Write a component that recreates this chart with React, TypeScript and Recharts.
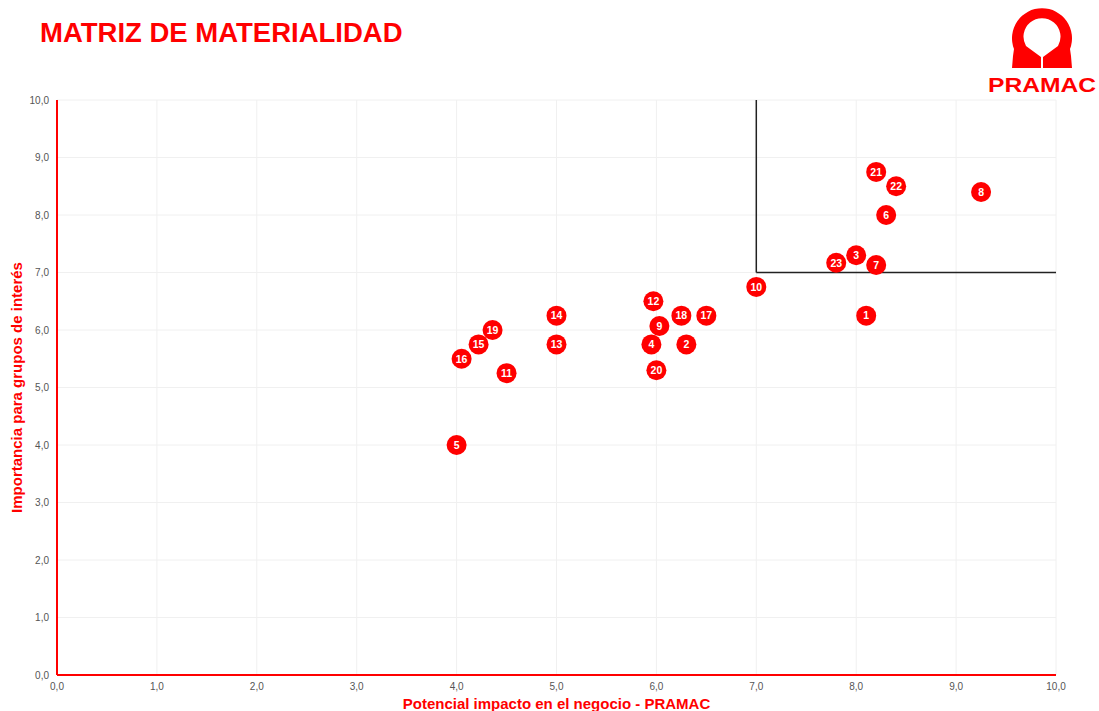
import React from "react";
import {
  ScatterChart,
  Scatter,
  XAxis,
  YAxis,
  CartesianGrid,
  ReferenceLine,
} from "recharts";

const ids = [1, 2, 3, 4, 5, 6, 7, 8, 9, 10, 11, 12, 13, 14, 15, 16, 17, 18, 19, 20, 21, 22, 23];
const impacto = [8.1, 6.3, 8.0, 5.95, 4.0, 8.3, 8.2, 9.25, 6.03, 7.0, 4.5, 5.97, 5.0, 5.0, 4.22, 4.05, 6.5, 6.25, 4.36, 6.0, 8.2, 8.4, 7.8];
const importancia = [6.25, 5.75, 7.3, 5.75, 4.0, 8.0, 7.13, 8.4, 6.07, 6.75, 5.25, 6.5, 5.75, 6.25, 5.75, 5.5, 6.25, 6.25, 6.0, 5.3, 8.75, 8.5, 7.17];
const ticks = [0, 1, 2, 3, 4, 5, 6, 7, 8, 9, 10];

const RED = "#ff0000";
const FONT = "'Liberation Sans', Arial, sans-serif";

const data = ids.map((id, i) => ({ id, x: impacto[i], y: importancia[i] }));

const fmt = (v: number) => v.toFixed(1).replace(".", ",");

function Bubble(props: any) {
  const { cx, cy, payload } = props;
  return (
    <g>
      <circle cx={cx} cy={cy} r={10} fill={RED} />
      <text
        x={cx}
        y={cy}
        dy="0.36em"
        textAnchor="middle"
        fill="#fff"
        fontSize={10.5}
        fontWeight="bold"
        fontFamily={FONT}
      >
        {payload.id}
      </text>
    </g>
  );
}

// logo in the top-right corner
function Logo() {
  return (
    <svg width={119} height={100} style={{ position: "absolute", left: 980, top: 0 }}>
      <path
        fillRule="evenodd"
        fill={RED}
        d="M 32 68 L 33 56 L 34 49 A 30 30 0 1 1 90 49 L 91 56 L 92 68 Z
           M 46 46 A 18.5 18.5 0 1 1 78 46 L 63 57 L 63 68 L 61 68 L 61 57 Z"
      />
      <text
        x={62}
        y={92}
        textAnchor="middle"
        fill={RED}
        fontSize={21}
        fontWeight="bold"
        fontFamily={FONT}
        textLength={108}
        lengthAdjust="spacingAndGlyphs"
      >
        PRAMAC
      </text>
    </svg>
  );
}

export default function App() {
  return (
    <div
      style={{
        position: "absolute",
        left: 0,
        top: 0,
        width: 1099,
        height: 711,
        background: "#fff",
        fontFamily: FONT,
      }}
    >
      <div
        style={{
          position: "absolute",
          left: 40,
          top: 16,
          color: RED,
          fontSize: 27.5,
          fontWeight: "bold",
          lineHeight: "34px",
        }}
      >
        MATRIZ DE MATERIALIDAD
      </div>
      <Logo />
      <ScatterChart
        width={1099}
        height={711}
        margin={{ top: 100, right: 43, bottom: 6, left: 7 }}
      >
        <CartesianGrid stroke="#f0f0f0" />
        <XAxis
          type="number"
          dataKey="x"
          domain={[0, 10]}
          ticks={ticks}
          tickFormatter={fmt}
          tickLine={false}
          axisLine={{ stroke: RED, strokeWidth: 2 }}
          tick={{ fill: "#555", fontSize: 10, fontFamily: FONT }}
          height={30}
          label={{
            value: "Potencial impacto en el negocio - PRAMAC",
            position: "insideBottom",
            offset: -4,
            fill: RED,
            fontSize: 15,
            fontWeight: "bold",
            fontFamily: FONT,
          }}
        />
        <YAxis
          type="number"
          dataKey="y"
          domain={[0, 10]}
          ticks={ticks}
          tickFormatter={fmt}
          tickLine={false}
          axisLine={{ stroke: RED, strokeWidth: 2 }}
          tick={{ fill: "#555", fontSize: 10, fontFamily: FONT }}
          width={50}
          label={{
            value: "Importancia para grupos de interés",
            angle: -90,
            position: "insideLeft",
            offset: 10,
            style: { textAnchor: "middle" },
            fill: RED,
            fontSize: 15,
            fontWeight: "bold",
            fontFamily: FONT,
          }}
        />
        <ReferenceLine
          segment={[{ x: 7, y: 7 }, { x: 7, y: 10 }]}
          stroke="#222"
          strokeWidth={1.5}
        />
        <ReferenceLine
          segment={[{ x: 7, y: 7 }, { x: 10, y: 7 }]}
          stroke="#222"
          strokeWidth={1.5}
        />
        <Scatter data={data} shape={Bubble} isAnimationActive={false} />
      </ScatterChart>
    </div>
  );
}
